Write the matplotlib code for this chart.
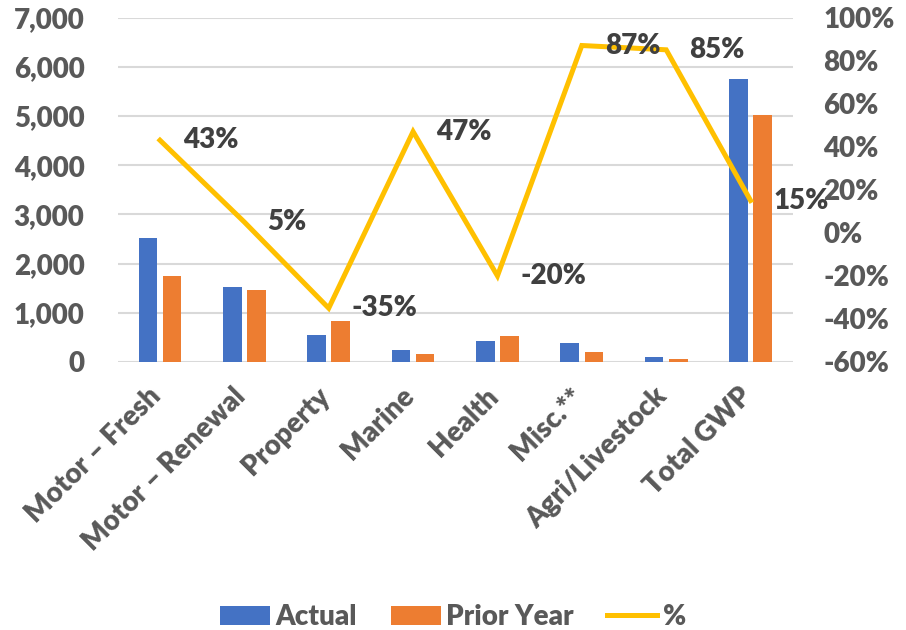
import matplotlib.pyplot as plt
import matplotlib.transforms as mtransforms
import numpy as np

plt.rcParams['font.family'] = ['Lato', 'DejaVu Sans']
plt.rcParams['font.weight'] = 'heavy'

categories = ["Motor – Fresh", "Motor – Renewal", "Property", "Marine",
              "Health", "Misc.**", "Agri/Livestock", "Total GWP"]
actual = [2510, 1530, 550, 250, 420, 390, 95, 5750]
prior_year = [1755, 1460, 840, 165, 520, 210, 55, 5015]
pct = [43, 5, -35, 47, -20, 87, 85, 15]

blue = "#4472C4"
orange = "#ED7D31"
yellow = "#FFC000"
tick_col = "#595959"
label_col = "#404040"
grid_col = "#D9D9D9"

fig = plt.figure(figsize=(9.06, 6.30), dpi=100)
ax = fig.add_axes([0.130, 0.4254, 0.745, 0.5468])
ax2 = ax.twinx()

x = np.arange(len(categories))
w = 0.22
ax.bar(x - 0.143, actual, w, color=blue, label="Actual", zorder=2)
ax.bar(x + 0.143, prior_year, w, color=orange, label="Prior Year", zorder=2)

ax.set_ylim(0, 7000)
ax.set_xlim(-0.5, len(categories) - 0.5)
ax.set_yticks(range(0, 7001, 1000))
ax.set_yticklabels([f"{v:,}" for v in range(0, 7001, 1000)])
ax.yaxis.grid(True, color=grid_col, lw=1.5, zorder=0)
ax.set_axisbelow(True)
for s in ax.spines.values():
    s.set_visible(False)
for s in ax2.spines.values():
    s.set_visible(False)
ax.tick_params(axis='y', length=0, pad=24, labelsize=20, labelcolor=tick_col)
ax.tick_params(axis='x', length=0, pad=15, labelsize=20, labelcolor=tick_col)
ax.set_xticks(x)
ax.set_xticklabels(categories, rotation=45, ha='right', va='top',
                   rotation_mode='anchor')
shift = mtransforms.ScaledTranslation(-12 / 100, 0, fig.dpi_scale_trans)
for lbl in ax.get_xticklabels():
    lbl.set_transform(lbl.get_transform() + shift)

ax2.plot(x, pct, color=yellow, lw=3.6, label="%", zorder=3,
         solid_joinstyle='miter')
ax2.set_ylim(-60, 100)
ax2.set_yticks(range(-60, 101, 20))
ax2.set_yticklabels([f"{v}%" for v in range(-60, 101, 20)])
ax2.tick_params(axis='y', length=0, pad=22, labelsize=20, labelcolor=tick_col)

for xi, v in zip(x, pct):
    ax2.annotate(f"{v}%", (xi, v), xytext=(23, 0), textcoords='offset pixels',
                 ha='left', va='center', fontsize=20, color=label_col)

h1, l1 = ax.get_legend_handles_labels()
h2, l2 = ax2.get_legend_handles_labels()
fig.legend(h1 + h2, l1 + l2, loc='lower center', ncol=3,
           bbox_to_anchor=(0.5, -0.04), frameon=False, fontsize=20,
           labelcolor=tick_col, handlelength=1.8, handleheight=0.7,
           columnspacing=1.2, handletextpad=0.2)

fig.savefig("out.png", dpi=100)
